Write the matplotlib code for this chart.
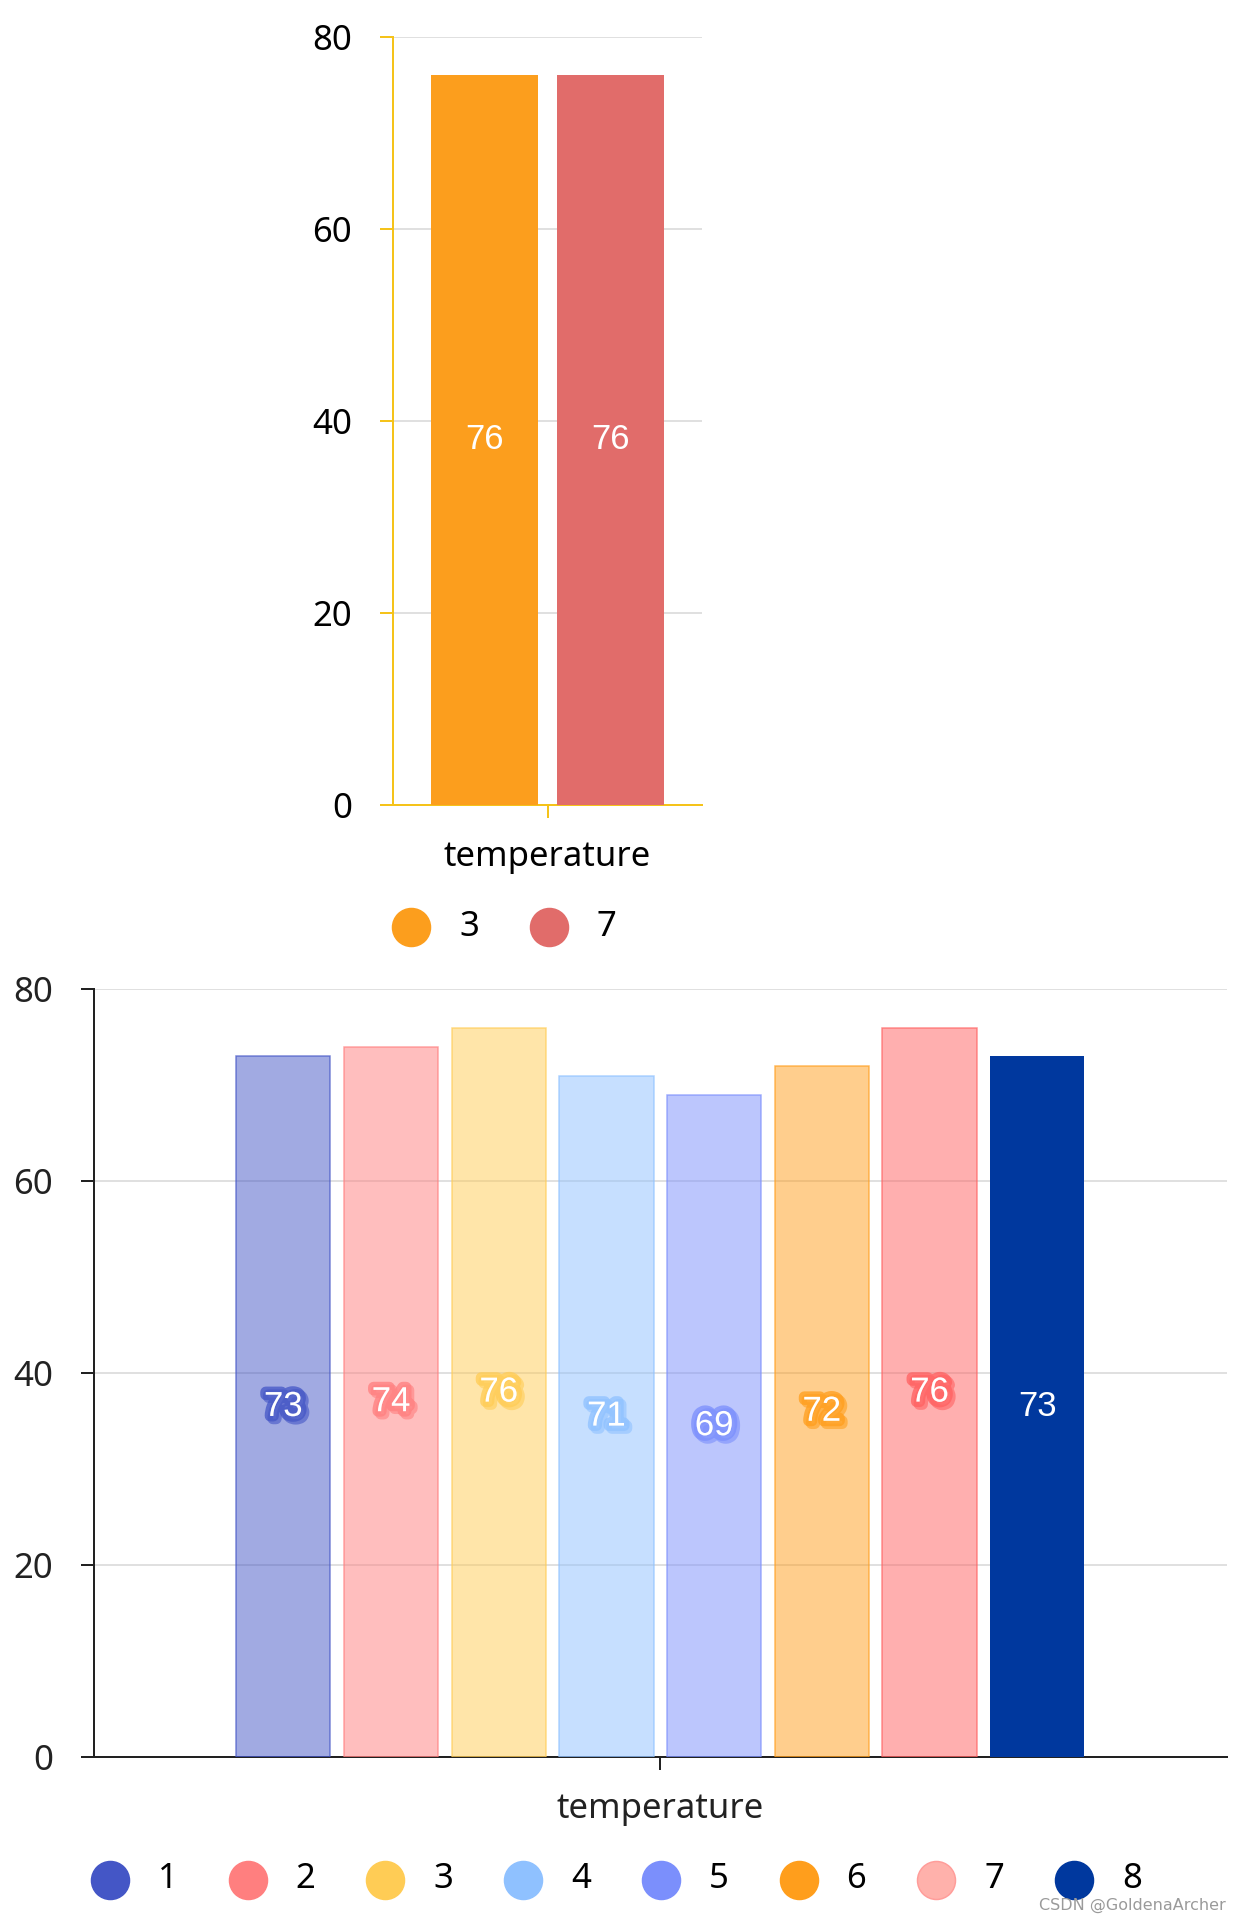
import matplotlib
matplotlib.use('Agg')
import matplotlib.pyplot as plt
import matplotlib.patheffects as pe
from matplotlib.colors import to_rgba
from matplotlib.transforms import blended_transform_factory

plt.rcParams['font.family'] = ['Noto Sans', 'DejaVu Sans']

# ---------------- data ----------------
category = ['temperature']

top_series = ['3', '7']
top_values = [76, 76]
top_colors = ['#fc9e1d', '#e16c6a']

bottom_series = ['1', '2', '3', '4', '5', '6', '7', '8']
bottom_values = [73, 74, 76, 71, 69, 72, 76, 73]
bottom_colors = ['#4456c6', '#ff7f7f', '#ffcc55', '#8fc1ff', '#7b8ffc', '#ff9e1c', '#ff6161', '#00389e']
bottom_legend_colors = ['#4456c6', '#ff7f7f', '#ffcc55', '#8fc1ff', '#7b8ffc', '#ff9e1c', '#ffb1ab', '#00389e']
bottom_legend_edges = ['#4456c6', '#ff7f7f', '#ffcc55', '#8fc1ff', '#7b8ffc', '#ff9e1c', '#ff9d9a', '#00389e']
bottom_opaque = [False, False, False, False, False, False, False, True]

y_ticks = [0, 20, 40, 60, 80]

# ---------------- layout ----------------
W, H = 1242, 1918
DPI = 100
fig = plt.figure(figsize=(W / DPI, H / DPI), dpi=DPI)
PT = 72.0 / DPI  # points per pixel

def axes_px(left, top, right, bottom):
    return fig.add_axes([left / W, 1 - bottom / H, (right - left) / W, (bottom - top) / H])

TICK_FS = 25
LABEL_FS = 25
YELLOW = '#f5c31a'
DARK = '#222222'

def style_axes(ax, axis_color, label_color, height_px):
    ax.set_xlim(-0.5, 0.5)
    ax.set_ylim(0, 80)
    ax.set_yticks(y_ticks)
    ax.set_yticklabels([str(t) for t in y_ticks])
    for s in ['top', 'right']:
        ax.spines[s].set_visible(False)
    for s in ['left', 'bottom']:
        ax.spines[s].set_color(axis_color)
        ax.spines[s].set_linewidth(2 * PT)
    ax.yaxis.grid(True, color='#e0e0e0', linewidth=2 * PT)
    ax.set_axisbelow(True)
    ax.tick_params(axis='y', length=13 * PT, width=2 * PT, color=axis_color,
                   labelsize=TICK_FS, labelcolor=label_color, pad=28 * PT)
    ax.set_xticks([0])
    ax.set_xticklabels([''])
    ax.tick_params(axis='x', length=13 * PT, width=2 * PT, color=axis_color)
    tr = blended_transform_factory(ax.transData, ax.transAxes)
    ax.text(0, -52 / height_px, category[0], transform=tr, ha='center', va='center',
            fontsize=TICK_FS, color=label_color)

# ---------------- top chart ----------------
ax1 = axes_px(393, 36.7, 702, 804.5)
style_axes(ax1, YELLOW, '#000000', 767.8)
top_offsets = [-0.204, 0.204]
top_width = 0.3486
for off, v, c in zip(top_offsets, top_values, top_colors):
    ax1.bar(off, v, width=top_width, color=c, linewidth=0, zorder=3)
    ax1.text(off, v / 2, str(v), ha='center', va='center', color='white',
             fontsize=LABEL_FS, family=['Liberation Sans', 'DejaVu Sans'], zorder=4)

# ---------------- bottom chart ----------------
ax2 = axes_px(94, 989.3, 1226.5, 1756.5)
style_axes(ax2, DARK, DARK, 767.2)
pitch = 0.0951
bw = 0.0833
n = len(bottom_values)
for i, (v, c, opq) in enumerate(zip(bottom_values, bottom_colors, bottom_opaque)):
    x = (i - (n - 1) / 2) * pitch
    if opq:
        ax2.bar(x, v, width=bw, color=c, linewidth=0, zorder=3)
        ax2.text(x, v / 2, str(v), ha='center', va='center', color='white',
                 fontsize=LABEL_FS, family=['Liberation Sans', 'DejaVu Sans'], zorder=4)
    else:
        ax2.bar(x, v, width=bw, color=to_rgba(c, 0.5), edgecolor=to_rgba(c, 0.7),
                linewidth=1.5 * PT, zorder=3)
        effects = [
            pe.withStroke(linewidth=11 * PT, foreground=to_rgba(c, 0.6), offset=(2, -2)),
            pe.withStroke(linewidth=11 * PT, foreground=to_rgba(c, 0.75)),
        ]
        ax2.text(x, v / 2, str(v), ha='center', va='center', color='white',
                 fontsize=LABEL_FS, family=['Liberation Sans', 'DejaVu Sans'], zorder=4,
                 path_effects=effects)

# ---------------- legends (overlay in pixel coords) ----------------
ov = fig.add_axes([0, 0, 1, 1])
ov.set_xlim(0, W)
ov.set_ylim(H, 0)
ov.axis('off')
ov.patch.set_alpha(0)

LEG_STEP = 137.7
MS = (38 * PT) ** 2

def legend(names, colors, x0, y, edges):
    for i, (nm, c, ec) in enumerate(zip(names, colors, edges)):
        cx = x0 + i * LEG_STEP
        ov.scatter([cx], [y], s=MS, color=c, edgecolors=ec, linewidths=1.5 * PT)
        ov.text(cx + 48, y, nm, ha='left', va='center', fontsize=TICK_FS, color='#000000')

legend(top_series, top_colors, 411, 926.5, top_colors)
legend(bottom_series, bottom_legend_colors, 110, 1879.5, bottom_legend_edges)

fig.text(1226 / W, 1 - 1905 / H, 'CSDN @GoldenaArcher', ha='right', va='center',
         fontsize=11.5, color='#9a9a9a', family=['Liberation Sans Narrow', 'DejaVu Sans'])

fig.savefig('out.png', dpi=DPI)
